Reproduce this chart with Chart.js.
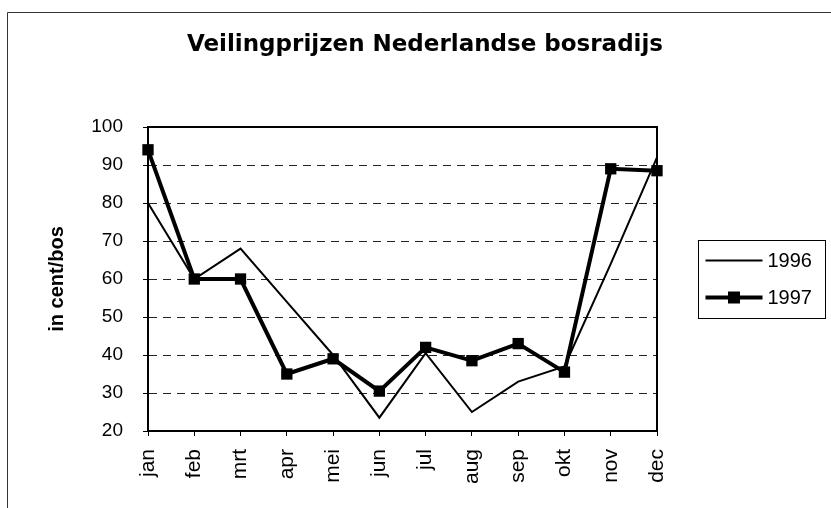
<!DOCTYPE html>
<html>
<head>
<meta charset="utf-8">
<script src="https://cdn.jsdelivr.net/npm/chart.js@4/dist/chart.umd.min.js"></script>
<style>
  html, body { margin: 0; padding: 0; background: #fff; }
  #wrap { width: 831px; height: 508px; position: relative; }
</style>
</head>
<body>
<div id="wrap"><canvas id="c" width="831" height="508"></canvas></div>
<script>
const months = ['jan','feb','mrt','apr','mei','jun','jul','aug','sep','okt','nov','dec'];
const prices1996 = [80, 60, 68, 54, 40, 23.5, 40.5, 25, 33, 37, 64, 92];
const prices1997 = [94, 60, 60, 35, 39, 30.5, 42, 38.5, 43, 35.5, 89, 88.5];
const seriesLabels = ['1996', '1997'];
const yTicks = [20, 30, 40, 50, 60, 70, 80, 90, 100];

const FONT = "'Liberation Sans', Arial, sans-serif";

const framePlugin = {
  id: 'frame',
  beforeDraw(chart) {
    const ctx = chart.ctx;
    ctx.save();
    ctx.fillStyle = '#fff';
    ctx.fillRect(0, 0, chart.width, chart.height);
    ctx.strokeStyle = '#333';
    ctx.lineWidth = 1;
    ctx.beginPath();
    ctx.moveTo(7.5, chart.height + 5);
    ctx.lineTo(7.5, 12.5);
    ctx.lineTo(chart.width + 5, 12.5);
    ctx.stroke();
    ctx.restore();
  },
  afterDraw(chart) {
    const ctx = chart.ctx;
    const a = chart.chartArea;
    ctx.save();
    ctx.setLineDash([]);
    ctx.strokeStyle = '#000';
    ctx.lineWidth = 2;
    ctx.beginPath();
    ctx.moveTo(a.left, a.top);
    ctx.lineTo(a.right, a.top);
    ctx.lineTo(a.right, a.bottom);
    ctx.stroke();

    // legend
    const bx = a.right + 41.5, by = 240.5, bw = 127, bh = 78;
    ctx.lineWidth = 1;
    ctx.strokeStyle = '#000';
    ctx.strokeRect(bx, by, bw, bh);
    ctx.font = '20px ' + FONT;
    ctx.fillStyle = '#000';
    ctx.textBaseline = 'middle';
    ctx.textAlign = 'left';
    chart.data.datasets.forEach((ds, i) => {
      const y = by + 20 + i * 37;
      const x0 = bx + 7, x1 = bx + 64;
      ctx.lineWidth = ds.borderWidth;
      ctx.beginPath();
      ctx.moveTo(x0, y);
      ctx.lineTo(x1, y);
      ctx.stroke();
      if (ds.pointRadius > 0) {
        const s = 12;
        ctx.fillRect((x0 + x1) / 2 - s / 2, y - s / 2, s, s);
      }
      ctx.fillText(ds.label, x1 + 5, y + 1);
    });
    ctx.restore();
  }
};

new Chart(document.getElementById('c'), {
  type: 'line',
  data: {
    labels: months,
    datasets: [
      {
        label: seriesLabels[0],
        data: prices1996,
        borderColor: '#000',
        backgroundColor: '#000',
        borderWidth: 2,
        pointRadius: 0,
        tension: 0,
        clip: false
      },
      {
        label: seriesLabels[1],
        data: prices1997,
        borderColor: '#000',
        backgroundColor: '#000',
        borderWidth: 4,
        pointStyle: 'rect',
        pointRadius: 8,
        pointBorderWidth: 0,
        pointBackgroundColor: '#000',
        tension: 0,
        clip: false
      }
    ]
  },
  options: {
    responsive: false,
    animation: false,
    devicePixelRatio: 1,
    layout: { padding: { left: 19, right: 0, top: 0, bottom: 0 } },
    plugins: {
      legend: { display: false },
      tooltip: { enabled: false },
      title: {
        display: true,
        text: 'Veilingprijzen Nederlandse bosradijs',
        color: '#000',
        font: { family: "'DejaVu Sans', sans-serif", size: 23, weight: 'bold', lineHeight: 1.2 },
        padding: { top: 31, bottom: 68.4 }
      }
    },
    scales: {
      x: {
        type: 'category',
        offset: false,
        grid: {
          display: true,
          drawOnChartArea: false,
          drawTicks: true,
          tickLength: 5,
          color: '#000',
          tickColor: '#000',
          tickWidth: 1
        },
        border: { display: true, color: '#000', width: 2 },
        ticks: {
          autoSkip: false,
          maxRotation: 90,
          minRotation: 90,
          padding: 13,
          color: '#000',
          font: { family: FONT, size: 21 }
        },
        afterFit(scale) { scale.height = 77; }
      },
      y: {
        min: 20,
        max: 100,
        afterBuildTicks(scale) { scale.ticks = yTicks.map(v => ({ value: v })); },
        grid: {
          display: true,
          drawTicks: true,
          tickLength: 5,
          lineWidth: 1,
          color: (c) => (c.tick && (c.tick.value === 20 || c.tick.value === 100)) ? 'rgba(0,0,0,0)' : '#222',
          tickBorderDash: [],
          tickColor: '#000',
          tickWidth: 1
        },
        border: { display: true, color: '#000', width: 2, dash: [8, 6] },
        ticks: {
          padding: 20,
          color: '#000',
          font: { family: FONT, size: 19 }
        },
        title: {
          display: true,
          text: 'in cent/bos',
          color: '#000',
          font: { family: FONT, size: 20, weight: 'bold', lineHeight: 1.2 },
          padding: { top: 26, bottom: 0 }
        },
        afterFit(scale) { scale.width = 129; }
      },
      legendSpace: {
        type: 'linear',
        position: 'right',
        display: true,
        grid: { display: false, drawTicks: false },
        border: { display: false },
        ticks: { display: false },
        afterFit(scale) { scale.width = 174; }
      }
    }
  },
  plugins: [framePlugin]
});
</script>
</body>
</html>
